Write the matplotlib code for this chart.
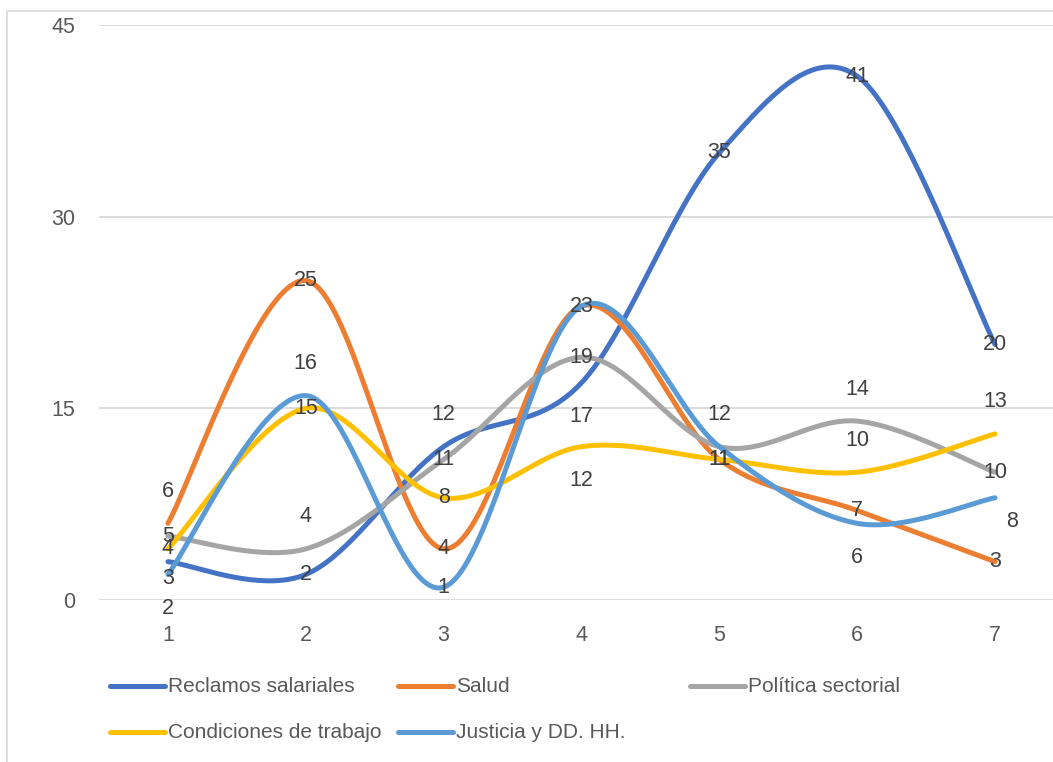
import numpy as np
import matplotlib
matplotlib.use('Agg')
import matplotlib.pyplot as plt
from matplotlib.patches import Rectangle
from matplotlib.lines import Line2D

plt.rcParams['font.family'] = ['Liberation Sans', 'DejaVu Sans']

categories = [1, 2, 3, 4, 5, 6, 7]
series_names = ['Reclamos salariales', 'Salud', 'Política sectorial',
                'Condiciones de trabajo', 'Justicia y DD. HH.']
reclamos = [3, 2, 12, 17, 35, 41, 20]
salud = [6, 25, 4, 23, 11, 7, 3]
politica = [5, 4, 11, 19, 12, 14, 10]
condiciones = [4, 15, 8, 12, 11, 10, 13]
justicia = [2, 16, 1, 23, 12, 6, 8]
y_ticks = [0, 15, 30, 45]

colors = ['#4472C4', '#ED7D31', '#A5A5A5', '#FFC000', '#5B9BD5']

# label placement per point: a=above, b=below, s=slightly below, c=centre,
# r=below-right, None=hidden
label_pos = [
    ['s', 'c', 'a', 'b', 'c', 'c', 'c'],
    ['a', 'c', 'c', 'c', 'c', 'c', 'c'],
    ['c', 'a', 'c', 'c', 'a', 'a', 'c'],
    ['c', 'c', 'c', 'b', 'c', 'a', 'a'],
    ['b', 'a', 'c', None, None, 'b', 'r'],
]
offsets = {'a': (0, 32), 'b': (0, -34), 's': (0, -17), 'c': (0, 0), 'r': (17, -24)}


def smooth(xs, ys, n=40):
    # Excel-like smoothed line: cubic bezier with catmull-rom control points
    xs = np.asarray(xs, float)
    ys = np.asarray(ys, float)
    pts = np.column_stack([xs, ys])
    out = []
    for i in range(len(pts) - 1):
        p0 = pts[i - 1] if i > 0 else pts[i]
        p1 = pts[i]
        p2 = pts[i + 1]
        p3 = pts[i + 2] if i + 2 < len(pts) else pts[i + 1]
        c1 = p1 + (p2 - p0) / 6.0
        c2 = p2 - (p3 - p1) / 6.0
        t = np.linspace(0, 1, n)[:, None]
        seg = ((1 - t) ** 3) * p1 + 3 * ((1 - t) ** 2) * t * c1 + 3 * (1 - t) * t ** 2 * c2 + t ** 3 * p2
        out.append(seg if i == 0 else seg[1:])
    seg = np.vstack(out)
    return seg[:, 0], seg[:, 1]


W, H = 1053, 762
fig = plt.figure(figsize=(W / 100, H / 100), dpi=100)
fig.patch.set_facecolor('white')

# chart border
fig.patches.append(Rectangle((7 / W, -0.1), 1.2, 1.1 - 11 / H,
                             transform=fig.transFigure, fill=False,
                             edgecolor='#d9d9d9', linewidth=1.2))

left, right = 99 / W, 1064 / W
bottom, top = 1 - 600 / H, 1 - 25 / H
ax = fig.add_axes([left, bottom, right - left, top - bottom])
ax.set_facecolor('none')
ax.set_xlim(0.5, 7.5)
ax.set_ylim(0, 45)
ax.set_yticks(y_ticks)
ax.set_xticks(categories)
ax.tick_params(length=0, labelsize=15.5, colors='#595959')
ax.tick_params(axis='y', pad=17)
ax.tick_params(axis='x', pad=18)
for s in ax.spines.values():
    s.set_visible(False)
ax.grid(axis='y', color='#d9d9d9', linewidth=1.3)
ax.set_axisbelow(True)

all_series = [reclamos, salud, politica, condiciones, justicia]
for vals, col in zip(all_series, colors):
    sx, sy = smooth(categories, vals)
    ax.plot(sx, sy, color=col, linewidth=3.6, solid_capstyle='round', clip_on=False)

for vals, pos in zip(all_series, label_pos):
    for x, v, p in zip(categories, vals, pos):
        if p is None:
            continue
        dx, dy = offsets[p]
        ax.annotate(str(v), (x, v), xytext=(dx, dy), textcoords='offset pixels',
                    ha='center', va='center', fontsize=15.5, color='#404040',
                    annotation_clip=False)

# legend drawn as a grid of three columns
leg_x = [110, 398, 690]
leg_y = [686, 732]
for i, (name, col) in enumerate(zip(series_names, colors)):
    r, c = divmod(i, 3)
    x0 = leg_x[c]
    y0 = 1 - leg_y[r] / H
    fig.lines.append(Line2D([x0 / W, (x0 + 55) / W], [y0, y0], transform=fig.transFigure,
                            color=col, linewidth=3.6, solid_capstyle='round'))
    fig.text((x0 + 58) / W, y0, name, ha='left', va='center', fontsize=15, color='#595959')

fig.savefig('out.png', dpi=100)
